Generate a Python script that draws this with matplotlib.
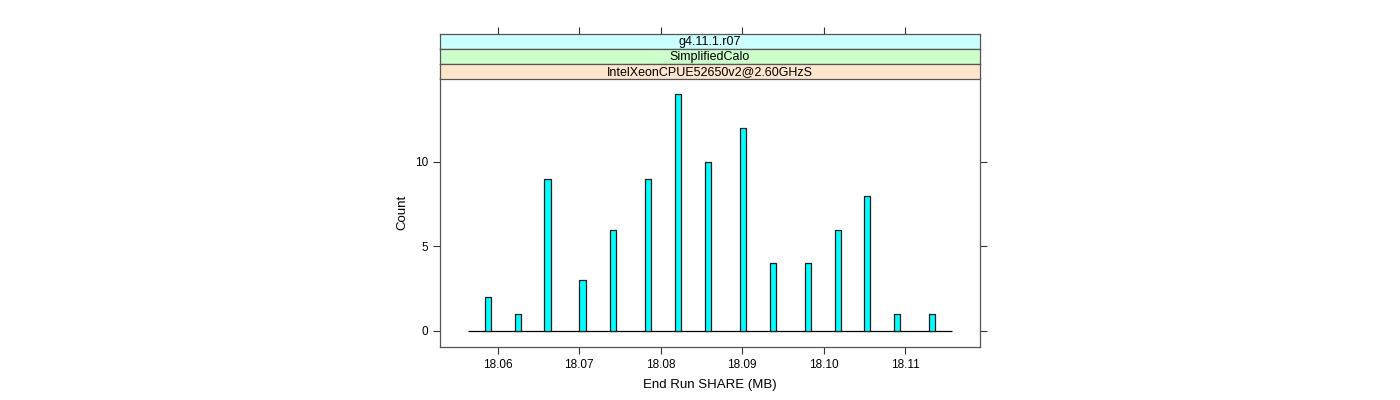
import matplotlib.pyplot as plt
import numpy as np

plt.rcParams['font.family'] = ['Liberation Sans', 'DejaVu Sans']

# bar centres (MB) and counts
share_mb = [18.0588, 18.0625, 18.0661, 18.0704, 18.0741, 18.0784, 18.0821,
            18.0858, 18.0901, 18.0938, 18.0981, 18.1018, 18.1053, 18.1090,
            18.1133]
counts = [2, 1, 9, 3, 6, 9, 14, 10, 12, 4, 4, 6, 8, 1, 1]
base_range = [18.0563, 18.1158]

x_ticks = [18.06, 18.07, 18.08, 18.09, 18.10, 18.11]
x_ticklabels = ['18.06', '18.07', '18.08', '18.09', '18.10', '18.11']
y_ticks = [0, 5, 10]

strip_labels = ['g4.11.1.r07', 'SimplifiedCalo', 'IntelXeonCPUE52650v2@2.60GHzS']
strip_colors = ['#CCFFFF', '#CCFFCC', '#FFE5CC']

xlim = (18.0529, 18.1192)
ylim = (-0.95, 14.97)

fig = plt.figure(figsize=(14, 4), dpi=100)
W, H = 1400, 400

def fx(px):
    return px / W

def fy(py):
    return 1 - py / H

# main panel
ax = fig.add_axes([fx(440), fy(347), fx(980) - fx(440), fy(78) - fy(347)])
ax.hlines(0, base_range[0], base_range[1], color='black', lw=0.9, zorder=1)
ax.bar(share_mb, counts, width=0.00075, color='#00FFFF', edgecolor='#1a1a1a',
       linewidth=0.9, zorder=2)
ax.set_xlim(xlim)
ax.set_ylim(ylim)
ax.set_xticks(x_ticks)
ax.set_xticklabels(x_ticklabels)
ax.set_yticks(y_ticks)
ax.tick_params(axis='both', direction='out', length=5, width=0.8, labelsize=8.5,
               colors='#333333', labelcolor='black')
ax.tick_params(axis='y', right=True, labelright=False)
for s in ax.spines.values():
    s.set_color('#555555')
    s.set_linewidth(0.9)
ax.set_xlabel('End Run SHARE (MB)', fontsize=9.5, labelpad=6)
ax.set_ylabel('Count', fontsize=9.5, labelpad=5)

# strips on top
strip_tops = [34, 49, 64]
strip_h = 14.7
for i, (lab, col) in enumerate(zip(strip_labels, strip_colors)):
    top = strip_tops[i]
    sax = fig.add_axes([fx(440), fy(top + strip_h), fx(980) - fx(440), strip_h / H])
    sax.set_facecolor(col)
    sax.set_xlim(xlim)
    sax.set_yticks([])
    if i == 0:
        sax.set_xticks(x_ticks)
        sax.tick_params(axis='x', bottom=False, labelbottom=False, top=True,
                        labeltop=False, direction='out', length=5, width=0.8,
                        colors='#333333')
    else:
        sax.set_xticks([])
    for s in sax.spines.values():
        s.set_color('#555555')
        s.set_linewidth(0.9)
    sax.text(0.5, 0.45, lab, transform=sax.transAxes, ha='center', va='center',
             fontsize=9)

fig.savefig('out.png', dpi=100)
